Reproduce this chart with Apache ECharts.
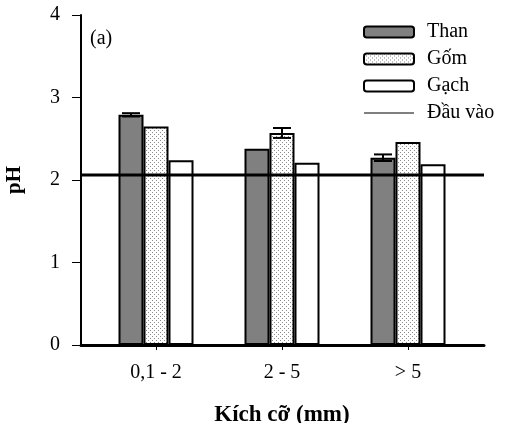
<!DOCTYPE html>
<html>
<head>
<meta charset="utf-8">
<script src="https://cdn.jsdelivr.net/npm/echarts@6/dist/echarts.min.js"></script>
<style>
  html, body { margin: 0; padding: 0; background: #fff; }
  #chart { width: 506px; height: 423px; }
</style>
</head>
<body>
<div id="chart"></div>
<script>
// kích cỡ hạt
const sizes = ['0,1 - 2', '2 - 5', '> 5'];
const seriesNames = ['Than', 'Gốm', 'Gạch'];
const than = [2.79, 2.38, 2.27];
const gom = [2.65, 2.57, 2.46];
const gach = [2.24, 2.21, 2.19];
const thanErr = [0.02, 0, 0.04];
const gomErr = [0, 0.06, 0];
const gachErr = [0, 0, 0];
const inputPH = 2.06;
const yTicks = [0, 1, 2, 3, 4];

const font = 'Liberation Serif';
const BAR_W = 25;

// pattern chấm cho Gốm
const dots = document.createElement('canvas');
dots.width = 4;
dots.height = 4;
const dctx = dots.getContext('2d');
dctx.fillStyle = '#fff';
dctx.fillRect(0, 0, 4, 4);
dctx.fillStyle = '#8a8a8a';
dctx.fillRect(0, 0, 1, 1);
dctx.fillRect(2, 2, 1, 1);

const fills = ['#808080', { image: dots, repeat: 'repeat' }, '#ffffff'];
const values = [than, gom, gach];
const errs = [thanErr, gomErr, gachErr];

const chart = echarts.init(document.getElementById('chart'), null, { renderer: 'canvas' });

const barSeries = seriesNames.map(function (name, s) {
  return {
    name: name,
    type: 'bar',
    xAxisIndex: 0,
    yAxisIndex: 0,
    barWidth: BAR_W,
    barGap: '0%',
    data: values[s],
    itemStyle: { color: fills[s], borderColor: '#000', borderWidth: 2 },
    z: 2
  };
});

const errData = [];
errs.forEach(function (arr, s) {
  arr.forEach(function (e, i) {
    if (e > 0) errData.push([i, values[s][i], e, s]);
  });
});

const option = {
  animation: false,
  backgroundColor: '#fff',
  grid: [
    { left: 93, right: 35, top: 15, bottom: 78, outerBoundsMode: 'none' },
    { left: 81, right: 22, top: 15, bottom: 78, outerBoundsMode: 'none' }
  ],
  legend: {
    orient: 'vertical',
    left: 358,
    top: 17,
    itemWidth: 50,
    itemHeight: 11,
    itemGap: 7,
    textStyle: { fontFamily: font, fontSize: 20, color: '#000', padding: [0, 0, 0, 8] },
    data: [
      { name: 'Than' },
      { name: 'Gốm' },
      { name: 'Gạch' },
      { name: 'Đầu vào', lineStyle: { width: 1, color: '#000' }, itemStyle: { opacity: 0 } }
    ]
  },
  xAxis: [
    {
      type: 'category',
      gridIndex: 0,
      data: sizes,
      name: 'Kích cỡ (mm)',
      nameLocation: 'middle',
      nameGap: 59,
      nameTextStyle: { fontFamily: font, fontSize: 23, fontWeight: 'bold', color: '#000' },
      axisLine: { show: false },
      axisTick: { show: true, alignWithLabel: true, length: 5, lineStyle: { color: '#000', width: 1 } },
      axisLabel: { margin: 18, fontFamily: font, fontSize: 20, color: '#000' }
    },
    {
      type: 'value',
      gridIndex: 1,
      min: -0.6,
      max: 2.6,
      splitLine: { show: false },
      axisLine: { show: true, onZero: false, lineStyle: { color: '#000', width: 3 } },
      axisTick: { show: false },
      axisLabel: { show: false }
    }
  ],
  yAxis: [
    {
      type: 'value',
      gridIndex: 0,
      min: yTicks[0],
      max: yTicks[yTicks.length - 1],
      interval: 1,
      show: false
    },
    {
      type: 'value',
      gridIndex: 1,
      min: yTicks[0],
      max: yTicks[yTicks.length - 1],
      interval: 1,
      name: 'pH',
      nameLocation: 'middle',
      nameGap: 56,
      nameTextStyle: { fontFamily: font, fontSize: 21, fontWeight: 'bold', color: '#000' },
      splitLine: { show: false },
      axisLine: { show: true, onZero: false, lineStyle: { color: '#000', width: 2 } },
      axisTick: { show: true, length: 9, lineStyle: { color: '#000', width: 1 } },
      axisLabel: { margin: 21, fontFamily: font, fontSize: 20, color: '#000' }
    }
  ],
  graphic: [{
    type: 'text',
    left: 90,
    top: 29,
    style: { text: '(a)', fontFamily: font, fontSize: 20, fill: '#000' }
  }],
  series: barSeries.concat([
    {
      name: 'Đầu vào',
      type: 'line',
      xAxisIndex: 1,
      yAxisIndex: 1,
      symbol: 'none',
      data: [[-0.6, inputPH], [2.6, inputPH]],
      lineStyle: { color: '#000', width: 3 },
      itemStyle: { color: '#000' },
      z: 4
    },
    {
      name: 'err',
      type: 'custom',
      xAxisIndex: 0,
      yAxisIndex: 0,
      data: errData,
      z: 5,
      renderItem: function (params, api) {
        const x = api.value(0);
        const v = api.value(1);
        const e = api.value(2);
        const shift = (api.value(3) - 1) * BAR_W;
        const top = api.coord([x, v + e]);
        const bot = api.coord([x, v - e]);
        const cx = top[0] + shift;
        const half = 9;
        const st = { stroke: '#000', lineWidth: 2 };
        return {
          type: 'group',
          children: [
            { type: 'line', shape: { x1: cx, y1: top[1], x2: cx, y2: bot[1] }, style: st },
            { type: 'line', shape: { x1: cx - half, y1: top[1], x2: cx + half, y2: top[1] }, style: st },
            { type: 'line', shape: { x1: cx - half, y1: bot[1], x2: cx + half, y2: bot[1] }, style: st }
          ]
        };
      }
    }
  ])
};

chart.setOption(option);
</script>
</body>
</html>
